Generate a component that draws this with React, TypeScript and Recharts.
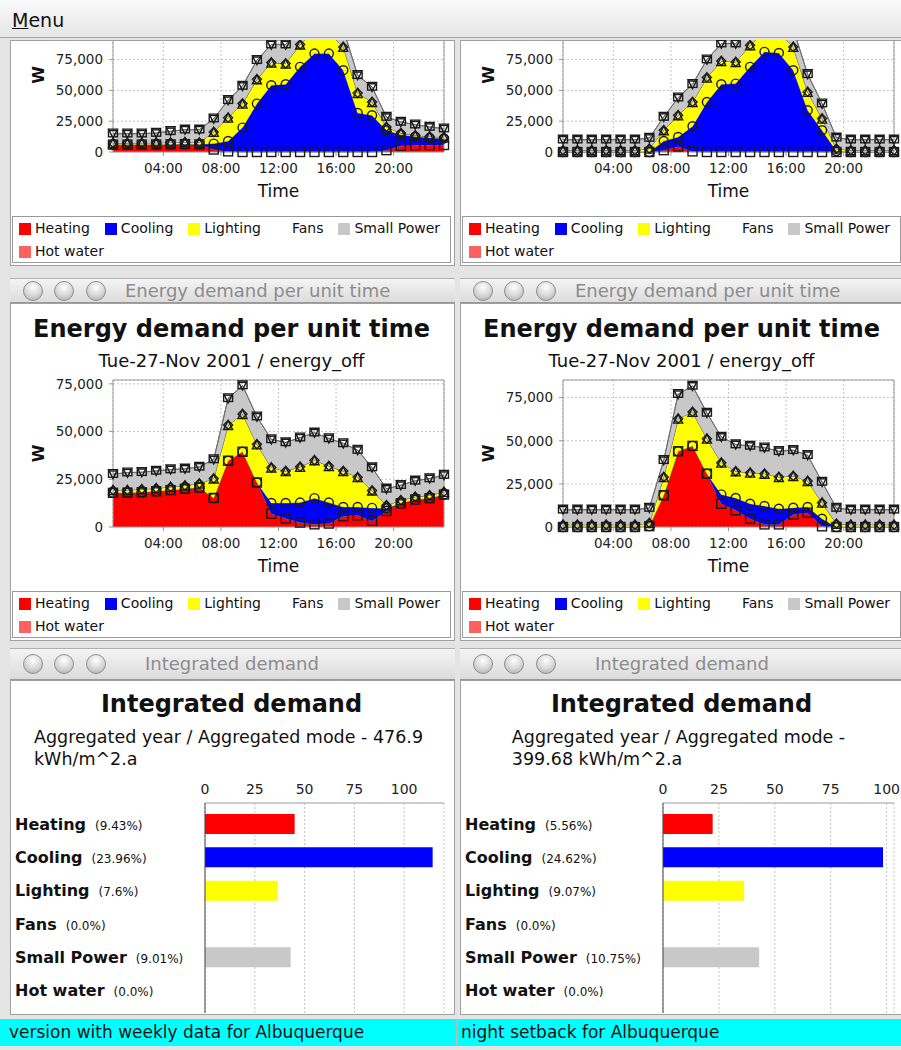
import React from 'react'
import {
  ComposedChart,
  Area,
  XAxis,
  YAxis,
  CartesianGrid,
  ReferenceArea,
  BarChart,
  Bar,
  Cell
} from 'recharts'

const FONT = '"DejaVu Sans", Verdana, sans-serif'

// hourly samples (mid-hour), x axis in hours
const hours = [0.5, 1.5, 2.5, 3.5, 4.5, 5.5, 6.5, 7.5, 8.5, 9.5, 10.5, 11.5, 12.5, 13.5, 14.5, 15.5, 16.5, 17.5, 18.5, 19.5, 20.5, 21.5, 22.5, 23.5]
const timeTicks = [4, 8, 12, 16, 20]
const noLoad = [0, 0, 0, 0, 0, 0, 0, 0, 0, 0, 0, 0, 0, 0, 0, 0, 0, 0, 0, 0, 0, 0, 0, 0]

// top-left: weekly data (scrolled panel)
const tlHeating = [6000, 6000, 6000, 6100, 6200, 6400, 6200, 2000, 500, 0, 0, 0, 0, 0, 0, 0, 0, 0, 0, 1500, 5000, 5500, 5600, 5700]
const tlCooling = [0, 0, 0, 0, 0, 0, 0, 4800, 8400, 19800, 39300, 54200, 55000, 69100, 79900, 79900, 66400, 31700, 29800, 16100, 9000, 7000, 5900, 5300]
const tlLighting = [1300, 1300, 1400, 1400, 1500, 1600, 1500, 9500, 19000, 19500, 19700, 18400, 16800, 18100, 18100, 17100, 18900, 16200, 10800, 2700, 1400, 1000, 1000, 1000]
const tlSmallPower = [7600, 7600, 7500, 7900, 9100, 10100, 10400, 10800, 14100, 14300, 15500, 14600, 15400, 14000, 14500, 14500, 14500, 14400, 12200, 8100, 9000, 8700, 7800, 7000]

// top-right: night setback (scrolled panel)
const trHeating = [0, 0, 0, 0, 0, 0, 0, 1500, 4500, 500, 0, 0, 0, 0, 0, 0, 0, 0, 0, 0, 0, 0, 0, 0]
const trCooling = [0, 0, 0, 0, 0, 0, 0, 7400, 7700, 20400, 40600, 55000, 55500, 69100, 81300, 80400, 66400, 33900, 17600, 800, 0, 0, 0, 0]
const trLighting = [1400, 1400, 1400, 1400, 1400, 1400, 2700, 8700, 17600, 19700, 19800, 18900, 17600, 17600, 16700, 16600, 18900, 14900, 9500, 1900, 1400, 1400, 1400, 1400]
const trSmallPower = [8600, 8600, 8600, 8600, 8600, 8600, 8700, 10800, 14300, 14400, 14600, 14100, 14900, 14300, 14000, 14000, 14700, 14300, 12200, 8900, 8600, 8600, 8600, 8600]

// middle-left: Tue-27-Nov 2001, weekly data
const mlHeating = [17900, 18000, 18200, 18700, 19300, 20000, 20700, 15200, 34700, 39400, 23300, 7000, 4400, 2300, 1400, 1800, 5600, 6100, 3200, 8400, 12400, 14400, 15100, 17000]
const mlCooling = [0, 0, 0, 0, 0, 0, 0, 0, 0, 0, 0, 5600, 8200, 10500, 13700, 11000, 4900, 4400, 6800, 1400, 0, 0, 0, 0]
const mlLighting = [1400, 1300, 1600, 1600, 1700, 1700, 2100, 10200, 18700, 19800, 20000, 18600, 16700, 18700, 19900, 19100, 18800, 15600, 9100, 1600, 1600, 1400, 1500, 1400]
const mlSmallPower = [8400, 9200, 8900, 9100, 9100, 8800, 8700, 10000, 14000, 14900, 14500, 14700, 15000, 15300, 14400, 14500, 14500, 14200, 12100, 8600, 7900, 8400, 8800, 8800]

// middle-right: Tue-27-Nov 2001, night setback
const mrHeating = [0, 0, 0, 0, 0, 0, 500, 18400, 43900, 47000, 30900, 13500, 9700, 4800, 1500, 1500, 7200, 8300, 400, 0, 0, 0, 0, 0]
const mrCooling = [0, 0, 0, 0, 0, 0, 0, 0, 0, 0, 0, 5400, 7100, 8700, 10700, 9100, 4000, 3300, 4400, 0, 0, 0, 0, 0]
const mrLighting = [1350, 1350, 1350, 1350, 1350, 1350, 1800, 10600, 18900, 19700, 20300, 18400, 15500, 18000, 18700, 18400, 18400, 15100, 9300, 1900, 1350, 1350, 1350, 1350]
const mrSmallPower = [8650, 8650, 8650, 8650, 8650, 8650, 8700, 9700, 14200, 15100, 14900, 14900, 15500, 15500, 15100, 14900, 14900, 14900, 12000, 9100, 8650, 8650, 8650, 8650]

// integrated demand, kWh/m^2.a
const weeklyTotals = [45.0, 114.3, 36.2, 0, 43.0, 0]
const weeklyShares = ['9.43%', '23.96%', '7.6%', '0.0%', '9.01%', '0.0%']
const setbackTotals = [22.2, 98.4, 36.3, 0, 43.0, 0]
const setbackShares = ['5.56%', '24.62%', '9.07%', '0.0%', '10.75%', '0.0%']

const seriesDefs = [
  { key: 'heating', name: 'Heating', color: '#ff0000', shape: 'square' },
  { key: 'cooling', name: 'Cooling', color: '#0000ff', shape: 'circle' },
  { key: 'lighting', name: 'Lighting', color: '#ffff00', shape: 'triangle' },
  { key: 'fans', name: 'Fans', color: '#ffffff', shape: 'diamond' },
  { key: 'smallPower', name: 'Small Power', color: '#c8c8c8', shape: 'rect' },
  { key: 'hotWater', name: 'Hot water', color: '#ff6060', shape: 'triangleDown' }
]

const buildRows = (heating, cooling, lighting, smallPower) =>
  hours.map((t, i) => ({
    t,
    heating: heating[i],
    cooling: cooling[i],
    lighting: lighting[i],
    fans: noLoad[i],
    smallPower: smallPower[i],
    hotWater: noLoad[i]
  }))

const buildBars = (totals, shares) =>
  seriesDefs.map((s, i) => ({ name: s.name, value: totals[i], share: shares[i], color: s.color }))

const fmtHour = (h) => (h < 10 ? '0' : '') + h + ':00'
const fmtWatts = (v) => v.toLocaleString('en-US')

const dotFor = (shape) => (props) => {
  const { cx, cy, index } = props
  const k = shape + '-' + index
  if (cx == null || cy == null) return <g key={k} />
  const s = 4.5
  let el
  if (shape === 'square') el = <rect x={cx - s} y={cy - s} width={2 * s} height={2 * s} />
  else if (shape === 'circle') el = <circle cx={cx} cy={cy} r={s} />
  else if (shape === 'triangle') el = <polygon points={`${cx},${cy - s} ${cx + s},${cy + s} ${cx - s},${cy + s}`} />
  else if (shape === 'diamond') el = <polygon points={`${cx},${cy - s} ${cx + s},${cy} ${cx},${cy + s} ${cx - s},${cy}`} />
  else if (shape === 'rect') el = <rect x={cx - s} y={cy - s * 0.7} width={2 * s} height={s * 1.4} />
  else el = <polygon points={`${cx - s},${cy - s} ${cx + s},${cy - s} ${cx},${cy + s}`} />
  return (
    <g key={k} fill='none' stroke='#1a1a1a' strokeWidth={1.4}>
      {el}
    </g>
  )
}

const DemandChart = ({ rows, yMax, yTicks, plotHeight }) => (
  <ComposedChart
    width={440}
    height={plotHeight + 57}
    data={rows}
    margin={{ top: 5, right: 6, bottom: 0, left: 0 }}
  >
    <CartesianGrid stroke='#c4c4c4' strokeDasharray='2 2' />
    <XAxis
      dataKey='t'
      type='number'
      domain={[0.5, 23.5]}
      ticks={timeTicks}
      tickFormatter={fmtHour}
      height={52}
      axisLine={false}
      tickSize={4}
      tickMargin={7}
      tickLine={{ stroke: '#999' }}
      tick={{ fontSize: 13.5, fill: '#222', fontFamily: FONT }}
      label={{ value: 'Time', position: 'insideBottom', offset: 7, style: { fontSize: 17, fill: '#111', fontFamily: FONT } }}
    />
    <YAxis
      type='number'
      domain={[0, yMax]}
      ticks={yTicks}
      tickFormatter={fmtWatts}
      width={103}
      axisLine={false}
      tickSize={4}
      tickMargin={6}
      tickLine={{ stroke: '#999' }}
      tick={{ fontSize: 13.5, fill: '#222', fontFamily: FONT }}
      label={{ value: 'W', angle: -90, position: 'insideLeft', offset: 28, style: { fontSize: 16, fontWeight: 'bold', fill: '#111', fontFamily: FONT, textAnchor: 'middle' } }}
    />
    {seriesDefs.map((s) => (
      <Area
        key={s.key}
        type='linear'
        stackId='demand'
        dataKey={s.key}
        name={s.name}
        fill={s.color}
        fillOpacity={1}
        stroke='#6e6e6e'
        strokeWidth={1}
        dot={dotFor(s.shape)}
        activeDot={false}
        isAnimationActive={false}
      />
    ))}
    <ReferenceArea x1={0.5} x2={23.5} y1={0} y2={yMax} fill='none' stroke='#9a9a9a' ifOverflow='visible' />
  </ComposedChart>
)

const ChartLegend = ({ top }) => (
  <div
    style={{
      position: 'absolute',
      left: 2,
      top,
      width: 439,
      height: 47,
      boxSizing: 'border-box',
      border: '1px solid #9a9a9a',
      background: '#fff',
      display: 'flex',
      flexWrap: 'wrap',
      columnGap: 15,
      padding: '0 0 0 6px',
      fontSize: 14,
      lineHeight: '23px',
      color: '#111',
      fontFamily: FONT
    }}
  >
    {seriesDefs.map((s) => (
      <span key={s.key} style={{ display: 'inline-flex', alignItems: 'center', height: 23 }}>
        <span style={{ width: 12, height: 12, background: s.color, marginRight: 4 }} />
        {s.name}
      </span>
    ))}
  </div>
)

const WindowBar = ({ left, top, height, title, titleLeft }) => (
  <div
    style={{
      position: 'absolute',
      left,
      top,
      width: 445,
      height,
      boxSizing: 'border-box',
      background: 'linear-gradient(#f4f4f4, #dcdcdc)',
      borderTop: '1px solid #b0b0b0',
      borderBottom: '1px solid #999'
    }}
  >
    {[23, 54, 86].map((cx) => (
      <div
        key={cx}
        style={{
          position: 'absolute',
          left: cx - 10,
          top: height / 2 - 11,
          width: 20,
          height: 20,
          borderRadius: '50%',
          boxSizing: 'border-box',
          border: '1px solid #8f8f8f',
          background: 'radial-gradient(circle at 50% 30%, #ffffff, #d6d6d6 55%, #a8a8a8)'
        }}
      />
    ))}
    <div
      style={{
        position: 'absolute',
        left: titleLeft,
        top: 0,
        lineHeight: height - 2 + 'px',
        fontSize: 18,
        color: '#8c8c8c',
        whiteSpace: 'nowrap'
      }}
    >
      {title}
    </div>
  </div>
)

const panelBox = {
  position: 'absolute',
  width: 445,
  background: '#fff',
  overflow: 'hidden',
  boxShadow: 'inset 0 0 0 1px #a0a0a0'
}

// the upper panels are scrolled: only the lower part of the plot shows
const ScrolledDemandPanel = ({ left, rows }) => (
  <div style={{ ...panelBox, left, top: 40, height: 226 }}>
    <div style={{ position: 'absolute', left: 0, top: -47 }}>
      <DemandChart rows={rows} yMax={125000} yTicks={[0, 25000, 50000, 75000]} plotHeight={154} />
    </div>
    <ChartLegend top={176} />
  </div>
)

const DemandPanel = ({ left, rows, yMax }) => (
  <>
    <WindowBar left={left} top={278} height={25} title='Energy demand per unit time' titleLeft={115} />
    <div style={{ ...panelBox, left, top: 303, height: 338 }}>
      <div style={{ position: 'absolute', left: 0, top: 12, width: 443, textAlign: 'center', fontSize: 24, fontWeight: 'bold', lineHeight: '28px', color: '#111', whiteSpace: 'nowrap' }}>
        Energy demand per unit time
      </div>
      <div style={{ position: 'absolute', left: 0, top: 47, width: 443, textAlign: 'center', fontSize: 18, lineHeight: '22px', color: '#111', whiteSpace: 'nowrap' }}>
        Tue-27-Nov 2001 / energy_off
      </div>
      <div style={{ position: 'absolute', left: 0, top: 72 }}>
        <DemandChart rows={rows} yMax={yMax} yTicks={[0, 25000, 50000, 75000]} plotHeight={147} />
      </div>
      <ChartLegend top={288} />
    </div>
  </>
)

const renderCategoryTick = (bars) => (props) => {
  const { y, payload } = props
  const bar = bars.find((b) => b.name === payload.value)
  return (
    <text x={5} y={y} dy={6} fontFamily={FONT} fill='#111'>
      <tspan fontWeight='bold' fontSize={16}>{payload.value}</tspan>
      <tspan dx={9} fontSize={12}>({bar ? bar.share : ''})</tspan>
    </text>
  )
}

const IntegratedChart = ({ bars, xMax, axisWidth }) => (
  <BarChart
    layout='vertical'
    width={441}
    height={238}
    data={bars}
    margin={{ top: 0, right: 7, bottom: 0, left: 0 }}
  >
    <CartesianGrid horizontal={false} stroke='#c4c4c4' strokeDasharray='2 2' />
    <XAxis
      type='number'
      orientation='top'
      domain={[0, xMax]}
      ticks={[0, 25, 50, 75, 100]}
      height={28}
      tickSize={0}
      tickMargin={9}
      tickLine={false}
      axisLine={{ stroke: '#9a9a9a' }}
      tick={{ fontSize: 14, fill: '#222', fontFamily: FONT }}
    />
    <YAxis
      type='category'
      dataKey='name'
      width={axisWidth}
      padding={{ top: 4, bottom: 6 }}
      tickLine={false}
      axisLine={{ stroke: '#444' }}
      tick={renderCategoryTick(bars)}
    />
    <Bar dataKey='value' barSize={20} isAnimationActive={false}>
      {bars.map((b) => (
        <Cell key={b.name} fill={b.color} />
      ))}
    </Bar>
  </BarChart>
)

const IntegratedPanel = ({ left, bars, xMax, axisWidth, lines }) => (
  <>
    <WindowBar left={left} top={648} height={32} title='Integrated demand' titleLeft={135} />
    <div style={{ ...panelBox, left, top: 680, height: 335 }}>
      <div style={{ position: 'absolute', left: 0, top: 10, width: 443, textAlign: 'center', fontSize: 24, fontWeight: 'bold', lineHeight: '28px', color: '#111' }}>
        Integrated demand
      </div>
      <div style={{ position: 'absolute', left: 0, top: 47, width: 437, textAlign: 'center' }}>
        <div style={{ display: 'inline-block', textAlign: 'left', fontSize: 17.5, lineHeight: '21.6px', color: '#111' }}>
          {lines.map((l) => (
            <div key={l} style={{ whiteSpace: 'nowrap' }}>{l}</div>
          ))}
        </div>
      </div>
      <div style={{ position: 'absolute', left: 0, top: 95 }}>
        <IntegratedChart bars={bars} xMax={xMax} axisWidth={axisWidth} />
      </div>
    </div>
  </>
)

export default function App() {
  const tlRows = buildRows(tlHeating, tlCooling, tlLighting, tlSmallPower)
  const trRows = buildRows(trHeating, trCooling, trLighting, trSmallPower)
  const mlRows = buildRows(mlHeating, mlCooling, mlLighting, mlSmallPower)
  const mrRows = buildRows(mrHeating, mrCooling, mrLighting, mrSmallPower)

  return (
    <div
      style={{
        position: 'absolute',
        left: 0,
        top: 0,
        width: 901,
        height: 1050,
        overflow: 'hidden',
        background: '#e4e4e4',
        fontFamily: FONT,
        color: '#111'
      }}
    >
      <div
        style={{
          position: 'absolute',
          left: 0,
          top: 0,
          width: 901,
          height: 38,
          boxSizing: 'border-box',
          background: 'linear-gradient(#fafafa, #e6e6e6)',
          borderBottom: '1px solid #a4a4a4'
        }}
      >
        <span style={{ position: 'absolute', left: 12, top: 0, lineHeight: '40px', fontSize: 19 }}>
          <u>M</u>enu
        </span>
      </div>

      <ScrolledDemandPanel left={10} rows={tlRows} />
      <ScrolledDemandPanel left={460} rows={trRows} />

      <DemandPanel left={10} rows={mlRows} yMax={77000} />
      <DemandPanel left={460} rows={mrRows} yMax={85200} />

      <IntegratedPanel
        left={10}
        bars={buildBars(weeklyTotals, weeklyShares)}
        xMax={120}
        axisWidth={195}
        lines={['Aggregated year / Aggregated mode - 476.9', 'kWh/m^2.a']}
      />
      <IntegratedPanel
        left={460}
        bars={buildBars(setbackTotals, setbackShares)}
        xMax={103.3}
        axisWidth={203}
        lines={['Aggregated year / Aggregated mode -', '399.68 kWh/m^2.a']}
      />

      <div style={{ position: 'absolute', left: 0, top: 1019, width: 901, height: 27, background: '#00ffff' }}>
        <span style={{ position: 'absolute', left: 9, top: 0, lineHeight: '27px', fontSize: 17, whiteSpace: 'nowrap' }}>
          version with weekly data for Albuquerque
        </span>
        <div style={{ position: 'absolute', left: 456, top: 0, width: 2, height: 27, background: '#b8b8b8' }} />
        <span style={{ position: 'absolute', left: 461, top: 0, lineHeight: '27px', fontSize: 17, whiteSpace: 'nowrap' }}>
          night setback for Albuquerque
        </span>
      </div>
    </div>
  )
}
